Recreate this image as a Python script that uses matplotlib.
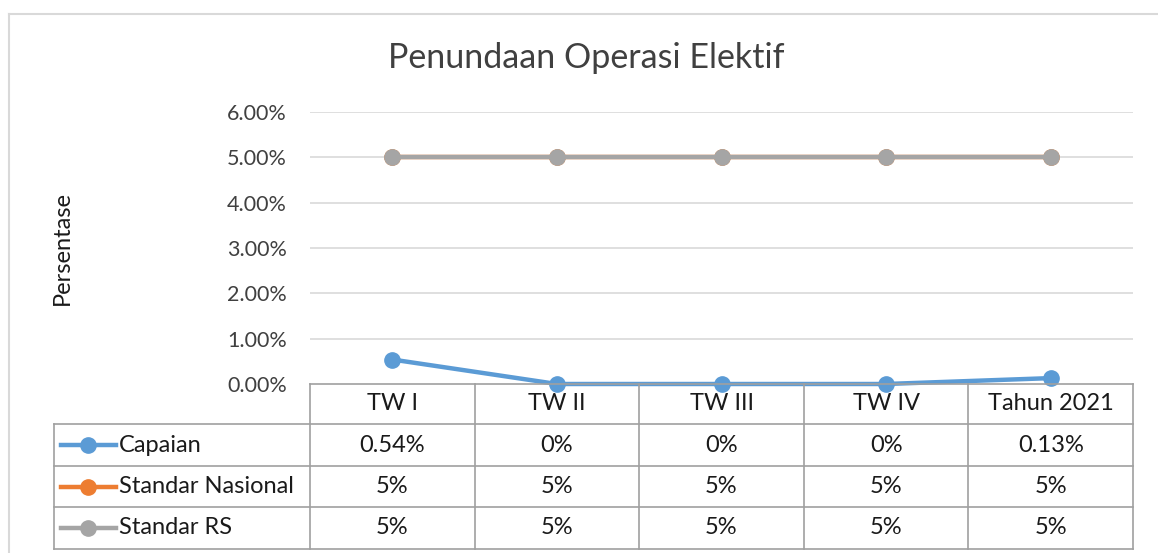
import matplotlib
matplotlib.use("Agg")
import matplotlib.pyplot as plt
from matplotlib.lines import Line2D
import matplotlib.transforms as mtransforms

categories = ["TW I", "TW II", "TW III", "TW IV", "Tahun 2021"]
capaian = [0.54, 0.0, 0.0, 0.0, 0.13]
standar_nasional = [5, 5, 5, 5, 5]
standar_rs = [5, 5, 5, 5, 5]
capaian_labels = ["0.54%", "0%", "0%", "0%", "0.13%"]
nasional_labels = ["5%", "5%", "5%", "5%", "5%"]
rs_labels = ["5%", "5%", "5%", "5%", "5%"]
series_names = ["Capaian", "Standar Nasional", "Standar RS"]
yticks = [0, 1, 2, 3, 4, 5, 6]
ytick_labels = ["0.00%", "1.00%", "2.00%", "3.00%", "4.00%", "5.00%", "6.00%"]
title = "Penundaan Operasi Elektif"
ylabel = "Persentase"

colors = ["#5B9BD5", "#ED7D31", "#A5A5A5"]
FONT = "Lato"
TXT = 17
W, H = 1158, 553
fig = plt.figure(figsize=(W / 100, H / 100), dpi=100)


def fx(px):
    return px / W


def fy(py):
    return 1 - py / H


# outer chart border (top and left edges visible)
fig.add_artist(Line2D([fx(9), 1.0], [fy(14), fy(14)], transform=fig.transFigure, color="#D9D9D9", lw=1.5))
fig.add_artist(Line2D([fx(9), fx(9)], [fy(14), 0.0], transform=fig.transFigure, color="#D9D9D9", lw=1.5))

left, right = 310, 1133
top, bottom = 112, 384
ax = fig.add_axes([fx(left), fy(bottom), fx(right - left), (bottom - top) / H])
ax.set_xlim(-0.5, len(categories) - 0.5)
ax.set_ylim(0, 6)
for s in ax.spines.values():
    s.set_visible(False)
ax.set_xticks([])
ax.set_yticks(yticks)
ax.set_yticklabels(ytick_labels, fontsize=15.5, color="#404040", family=FONT)
ax.tick_params(axis="y", length=0, pad=16.5)
for y in yticks[1:]:
    ax.axhline(y, color="#D9D9D9", lw=1.2, zorder=0)

x = list(range(len(categories)))
ax.plot(x, capaian, color=colors[0], lw=3.2, marker="o", ms=11, zorder=3, clip_on=False)
ax.plot(x, standar_nasional, color=colors[1], lw=3.2, marker="o", ms=11, zorder=3, clip_on=False)
ax.plot(x, standar_rs, color=colors[2], lw=3.2, marker="o", ms=11, zorder=4, clip_on=False)

fig.text(fx(586), fy(58), title, ha="center", va="center", fontsize=24.5, color="#404040", family=FONT)
fig.text(fx(62), fy(248), ylabel, ha="center", va="center", rotation=90, fontsize=17, color="#1a1a1a", family=FONT)

# data table
trans = mtransforms.blended_transform_factory(ax.transData, fig.transFigure)
grid_c = "#A0A0A0"
row_y = [384, 424, 466, 507, 549]
legend_left = 54
fig.add_artist(Line2D([fx(left), fx(right)], [fy(row_y[0])] * 2, transform=fig.transFigure, color=grid_c, lw=1.2))
for ry in row_y[1:]:
    fig.add_artist(Line2D([fx(legend_left), fx(right)], [fy(ry)] * 2, transform=fig.transFigure, color=grid_c, lw=1.2))
for i in range(len(categories) + 1):
    xb = i - 0.5
    fig.add_artist(Line2D([xb, xb], [fy(row_y[0]), fy(row_y[-1])], transform=trans, color=grid_c, lw=1.2))
fig.add_artist(Line2D([fx(legend_left)] * 2, [fy(row_y[1]), fy(row_y[-1])], transform=fig.transFigure, color=grid_c, lw=1.2))

for i, c in enumerate(categories):
    fig.text(i, fy((row_y[0] + row_y[1]) / 2), c, transform=trans, ha="center", va="center",
             fontsize=TXT, color="#1a1a1a", family=FONT)

rows = [capaian_labels, nasional_labels, rs_labels]
for r, labels in enumerate(rows):
    yc = fy((row_y[r + 1] + row_y[r + 2]) / 2)
    for i, lab in enumerate(labels):
        fig.text(i, yc, lab, transform=trans, ha="center", va="center", fontsize=TXT,
                 color="#1a1a1a", family=FONT)
    fig.add_artist(Line2D([fx(61), fx(116)], [yc, yc], transform=fig.transFigure, color=colors[r], lw=3.2))
    fig.add_artist(Line2D([fx(88)], [yc], transform=fig.transFigure, color=colors[r], marker="o", ms=11))
    fig.text(fx(119), yc, series_names[r], ha="left", va="center", fontsize=TXT, color="#1a1a1a", family=FONT)

fig.savefig("out.png", dpi=100)
